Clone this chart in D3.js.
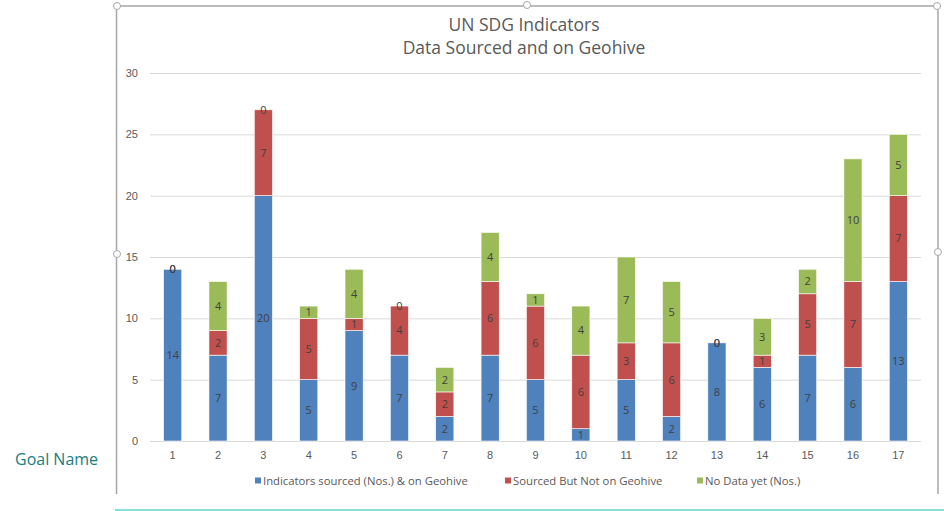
<!DOCTYPE html>
<html>
<head>
<meta charset="utf-8">
<script src="https://cdn.jsdelivr.net/npm/d3@7"></script>
<style>
  html, body { margin: 0; padding: 0; background: #fff; }
  svg { display: block; font-family: "Open Sans", "Noto Sans", sans-serif; }
</style>
</head>
<body>
<svg id="chart"></svg>
<script>
// goals 1..17
const goals = ["1","2","3","4","5","6","7","8","9","10","11","12","13","14","15","16","17"];
const onGeohive = [14, 7, 20, 5, 9, 7, 2, 7, 5, 1, 5, 2, 8, 6, 7, 6, 13];
const notOnGeohive = [0, 2, 7, 5, 1, 4, 2, 6, 6, 6, 3, 6, 0, 1, 5, 7, 7];
const noData = [0, 4, 0, 1, 4, 0, 2, 4, 1, 4, 7, 5, 0, 3, 2, 10, 5];
const seriesNames = ["Indicators sourced (Nos.) & on Geohive", "Sourced But Not on Geohive", "No Data yet (Nos.)"];
const yTicks = [0, 5, 10, 15, 20, 25, 30];

const colors = ["#4f81bd", "#c0504d", "#9bbb59"];
const width = 944, height = 511;
const margin = { top: 73, right: 23, bottom: 70, left: 150 };

const svg = d3.select("#chart")
  .attr("width", width)
  .attr("height", height);

// table for the stack
const table = goals.map((g, i) => ({ goal: g, s0: onGeohive[i], s1: notOnGeohive[i], s2: noData[i] }));
const stack = d3.stack().keys(["s0", "s1", "s2"])(table);

const x = d3.scaleBand()
  .domain(goals)
  .range([margin.left, width - margin.right])
  .paddingInner(0.6)
  .paddingOuter(0.3);

const y = d3.scaleLinear()
  .domain([0, 30])
  .range([height - margin.bottom, margin.top]);

// gridlines
svg.append("g")
  .selectAll("line")
  .data(yTicks)
  .join("line")
    .attr("x1", margin.left)
    .attr("x2", width - margin.right)
    .attr("y1", d => y(d) + 0.5)
    .attr("y2", d => y(d) + 0.5)
    .attr("stroke", "#d9d9d9")
    .attr("stroke-width", 1);

// y axis labels
const yAxis = svg.append("g")
  .attr("transform", `translate(${margin.left - 12},0)`)
  .call(d3.axisLeft(y).tickValues(yTicks).tickSize(0).tickPadding(0));
yAxis.select(".domain").remove();
yAxis.selectAll("text").attr("fill", "#595959").attr("font-size", "11px");

// x axis labels
const xAxis = svg.append("g")
  .attr("transform", `translate(0,${height - margin.bottom})`)
  .call(d3.axisBottom(x).tickSize(0).tickPadding(10));
xAxis.select(".domain").remove();
xAxis.selectAll("text").attr("fill", "#595959").attr("font-size", "11px");

// bars
const layers = svg.append("g")
  .selectAll("g")
  .data(stack)
  .join("g")
    .attr("fill", (d, i) => colors[i]);

layers.selectAll("rect")
  .data(d => d)
  .join("rect")
    .attr("x", d => x(d.data.goal))
    .attr("y", d => y(d[1]))
    .attr("height", d => y(d[0]) - y(d[1]))
    .attr("width", x.bandwidth())
    .attr("stroke", "#fff")
    .attr("stroke-width", 0.6);

// value labels
layers.selectAll("text")
  .data(d => d.map(v => ({ v: v, key: d.key })))
  .join("text")
    .attr("x", d => x(d.v.data.goal) + x.bandwidth() / 2)
    .attr("y", d => y((d.v[0] + d.v[1]) / 2))
    .attr("dy", "0.35em")
    .attr("text-anchor", "middle")
    .attr("font-size", "11px")
    .attr("fill", "#404040")
    .text(d => d.v.data[d.key]);

// title
const title = svg.append("text")
  .attr("text-anchor", "middle")
  .attr("fill", "#595959")
  .attr("font-size", "17.5px");
title.append("tspan").attr("x", 524).attr("y", 31).text("UN SDG Indicators");
title.append("tspan").attr("x", 524).attr("y", 54).text("Data Sourced and on Geohive");

// legend
const legendX = [255, 505, 697];
const legend = svg.append("g")
  .selectAll("g")
  .data(seriesNames)
  .join("g")
    .attr("transform", (d, i) => `translate(${legendX[i]},481)`);
legend.append("rect")
  .attr("x", 0).attr("y", -3.5)
  .attr("width", 6).attr("height", 6)
  .attr("fill", (d, i) => colors[i]);
legend.append("text")
  .attr("x", 8).attr("y", 0)
  .attr("dy", "0.33em")
  .attr("font-size", "11.3px")
  .attr("fill", "#595959")
  .text(d => d);

// chart frame (selected object look)
const frame = svg.append("g").attr("fill", "none").attr("stroke", "#a6a6a6").attr("stroke-width", 1.5);
frame.append("path").attr("d", "M116.5,494V10 Q116.5,6 121,6 H933 Q938,6 938,10 V494");
[[117, 6], [527, 5], [937, 6], [117, 254], [938, 252]].forEach(p => {
  frame.append("circle").attr("cx", p[0]).attr("cy", p[1]).attr("r", 3.5)
    .attr("fill", "#fff").attr("stroke", "#a6a6a6").attr("stroke-width", 1);
});

// page bits outside the chart
svg.append("text")
  .attr("x", 15).attr("y", 465)
  .attr("font-size", "16px")
  .attr("fill", "#1a7d7d")
  .text("Goal Name");

svg.append("line")
  .attr("x1", 115).attr("x2", width)
  .attr("y1", 510).attr("y2", 510)
  .attr("stroke", "#62d2cf")
  .attr("stroke-width", 1.5);
</script>
</body>
</html>
